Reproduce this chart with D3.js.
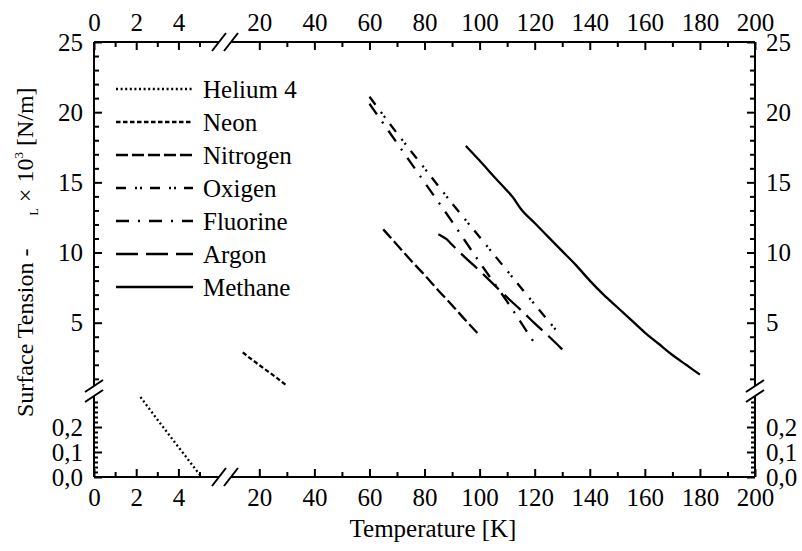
<!DOCTYPE html>
<html>
<head>
<meta charset="utf-8">
<script src="https://cdn.jsdelivr.net/npm/d3@7"></script>
<style>
    body { margin: 0; background: #fff; }
    text { font-family: "Liberation Serif", "Times New Roman", serif; fill: #000; }
</style>
</head>
<body>
<div id="chart"></div>
<script>

// surface tension of cryogenic liquids
// [temperature K, surface tension x 10^3 N/m]
var helium = [[2.2, 0.32], [3, 0.23], [4, 0.12], [5.05, 0.005]];
var neon = [[14, 2.88], [17, 2.42], [20, 1.98], [23, 1.55], [26, 1.12], [30, 0.5]];
var nitrogen = [[65, 11.65], [70, 10.55], [75, 9.45], [80, 8.4], [85, 7.3], [90, 6.25], [95, 5.15], [100, 4.1]];
var oxigen = [[60, 21.1], [70, 18.5], [80, 16.0], [90, 13.5], [100, 11.1], [110, 8.7], [120, 6.3], [128.5, 4.3]];
var fluorine = [[60, 20.6], [70, 17.8], [80, 15.0], [90, 12.2], [100, 9.3], [110, 6.5], [119.4, 3.7]];
var argon = [[85, 11.3], [86, 11.2], [88, 10.95], [90, 10.55], [95, 9.6], [100, 8.7], [105, 7.75], [110, 6.8], [115, 5.9], [120, 4.95], [125, 4.05], [130, 3.1]];
var methane = [[95, 17.6], [100, 16.55], [105, 15.45], [110, 14.4], [112, 13.95], [115, 13.1], [120, 12.1], [125, 11.1], [130, 10.1], [135, 9.1], [140, 8.0], [145, 7.0], [150, 6.1], [155, 5.2], [160, 4.3], [165, 3.5], [170, 2.7], [175, 2.0], [180, 1.3]];

var gasNames = ['Helium 4', 'Neon', 'Nitrogen', 'Oxigen', 'Fluorine', 'Argon', 'Methane'];
var gasData = [helium, neon, nitrogen, oxigen, fluorine, argon, methane];

// tick values, broken axes
var xLowMajor = [0, 2, 4];
var xLowMinor = [1, 3, 5];
var xHighMajor = [20, 40, 60, 80, 100, 120, 140, 160, 180, 200];
var xHighMinor = [30, 50, 70, 90, 110, 130, 150, 170, 190];
var yUpMajor = [5, 10, 15, 20, 25];
var yUpMinor = [1, 2, 3, 4, 6, 7, 8, 9, 11, 12, 13, 14, 16, 17, 18, 19, 21, 22, 23, 24];
var yLowMajor = [0, 0.1, 0.2];
var yLowMinor = [0.02, 0.04, 0.06, 0.08, 0.12, 0.14, 0.16, 0.18, 0.22, 0.24, 0.26, 0.28, 0.3];


(function () {

    var width = 802, height = 551;
    var pLeft = 94, pRight = 755, pTop = 42, pBottom = 477;

    var dashes = ['2,2.6', '4.5,2.5', '12,4', '10,9,2,3,2,8', '13,9,2,9', '22,8', null];

    var comma = d3.formatLocale({ decimal: ',', thousands: '.', grouping: [3], currency: ['', ''] });
    var fmtLow = comma.format('.1f');


    var svg = d3.select('#chart')
        .append('svg')
        .attr('width', width)
        .attr('height', height);


    // scales: low part of the x axis (0-5.6 K) and high part (11-200 K)
    var xLow = d3.scaleLinear().domain([0, 2]).range([pLeft, pLeft + 42.2]);
    var xHigh = d3.scaleLinear().domain([20, 200]).range([259.3, pRight]);

    // y: upper part (0.5 - 25) and lower part (0 - 0.32)
    var yUp = d3.scaleLinear().domain([5, 25]).range([322.7, pTop]);
    var yLow = d3.scaleLinear().domain([0, 0.2]).range([pBottom, 427]);


    var fontSize = 25;

    function styleAxis(g) {
        g.select('.domain').remove();
        g.selectAll('line').attr('stroke', '#000').attr('stroke-width', 2);
        g.selectAll('text')
            .attr('font-size', fontSize)
            .attr('font-family', '"Liberation Serif", "Times New Roman", serif')
            .attr('fill', '#000');
        g.attr('font-family', null).attr('font-size', null);
    }

    function axis(gen, scale, values, size, fmt, transform) {
        var a = gen(scale)
            .tickValues(values)
            .tickSize(-size)
            .tickPadding(fmt ? 11 : 0)
            .tickFormat(fmt || '');
        svg.append('g')
            .attr('transform', transform)
            .call(a)
            .call(styleAxis);
    }

    // bottom and top x axes
    [['bottom', pBottom], ['top', pTop]].forEach(function (p) {
        var gen = p[0] == 'bottom' ? d3.axisBottom : d3.axisTop;
        var tr = 'translate(0,' + p[1] + ')';
        axis(gen, xLow, xLowMajor, 8, d3.format('d'), tr);
        axis(gen, xLow, xLowMinor, 5, null, tr);
        axis(gen, xHigh, xHighMajor, 8, d3.format('d'), tr);
        axis(gen, xHigh, xHighMinor, 5, null, tr);
    });

    // left and right y axes
    [['left', pLeft], ['right', pRight]].forEach(function (p) {
        var gen = p[0] == 'left' ? d3.axisLeft : d3.axisRight;
        var tr = 'translate(' + p[1] + ',0)';
        axis(gen, yUp, yUpMajor, 8, d3.format('d'), tr);
        axis(gen, yUp, yUpMinor, 5, null, tr);
        axis(gen, yLow, yLowMajor, 8, fmtLow, tr);
        axis(gen, yLow, yLowMinor, 4, null, tr);
    });


    // frame with gaps at the breaks
    var xBreak = [219, 231];
    var yBreak = [386, 396];

    var frame = svg.append('g')
        .attr('stroke', '#000')
        .attr('stroke-width', 2)
        .attr('fill', 'none');

    [pTop, pBottom].forEach(function (y) {
        frame.append('line').attr('x1', pLeft).attr('x2', xBreak[0]).attr('y1', y).attr('y2', y);
        frame.append('line').attr('x1', xBreak[1]).attr('x2', pRight).attr('y1', y).attr('y2', y);
        xBreak.forEach(function (x) {
            frame.append('line')
                .attr('x1', x - 7).attr('y1', y + 9)
                .attr('x2', x + 7).attr('y2', y - 9);
        });
    });

    [pLeft, pRight].forEach(function (x) {
        frame.append('line').attr('x1', x).attr('x2', x).attr('y1', pTop).attr('y2', yBreak[0]);
        frame.append('line').attr('x1', x).attr('x2', x).attr('y1', yBreak[1]).attr('y2', pBottom);
        yBreak.forEach(function (y) {
            frame.append('line')
                .attr('x1', x - 9).attr('y1', y + 6)
                .attr('x2', x + 9).attr('y2', y - 6);
        });
    });


    // curves
    var lineLow = d3.line()
        .x(function (d) { return xLow(d[0]); })
        .y(function (d) { return yLow(d[1]); });

    var lineHigh = d3.line()
        .x(function (d) { return xHigh(d[0]); })
        .y(function (d) { return yUp(d[1]); })
        .curve(d3.curveMonotoneX);

    svg.append('g')
        .selectAll('.gas')
        .data(gasData)
        .enter()
        .append('path')
        .attr('class', 'gas')
        .attr('fill', 'none')
        .attr('stroke', '#000')
        .attr('stroke-width', 2.3)
        .attr('stroke-dasharray', function (d, i) { return dashes[i]; })
        .attr('d', function (d, i) { return i == 0 ? lineLow(d) : lineHigh(d); });


    // legend
    var legendY = d3.scalePoint().domain(gasNames).range([89, 287]);

    var legend = svg.append('g')
        .selectAll('.legend')
        .data(gasNames)
        .enter()
        .append('g')
        .attr('class', 'legend')
        .attr('transform', function (d) { return 'translate(0,' + legendY(d) + ')'; });

    legend.append('line')
        .attr('x1', 116)
        .attr('x2', 193)
        .attr('stroke', '#000')
        .attr('stroke-width', 2.3)
        .attr('stroke-dasharray', function (d, i) { return dashes[i]; });

    legend.append('text')
        .attr('x', 203)
        .attr('dy', '0.35em')
        .attr('font-size', fontSize)
        .text(function (d) { return d; });


    // axis titles
    svg.append('text')
        .attr('x', 433)
        .attr('y', 537)
        .attr('text-anchor', 'middle')
        .attr('font-size', fontSize)
        .text('Temperature [K]');

    var yTitle = svg.append('text')
        .attr('transform', 'translate(33,417) rotate(-90)')
        .attr('font-size', 24);

    yTitle.append('tspan').text('Surface Tension -');
    yTitle.append('tspan').attr('dx', 33).attr('dy', 5).attr('font-size', 12).text('L');
    yTitle.append('tspan').attr('dy', -5).text(' \u00d7 10');
    yTitle.append('tspan').attr('dy', -10).attr('font-size', 13).text('3');
    yTitle.append('tspan').attr('dy', 10).text(' [N/m]');

})();

</script>
</body>
</html>
